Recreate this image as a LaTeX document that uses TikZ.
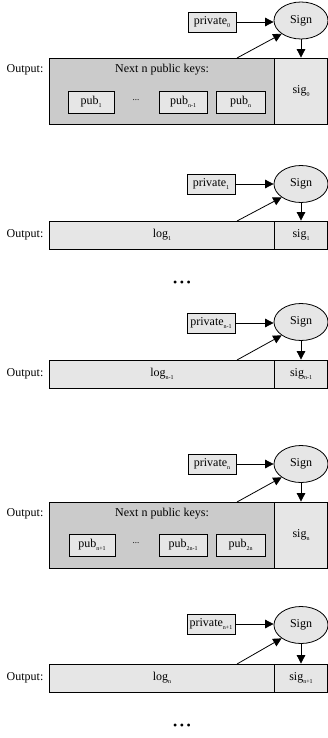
\documentclass[tikz,border=0pt]{standalone}
\usepackage{fontspec}
\setmainfont{Liberation Serif}
\usetikzlibrary{arrows.meta,shapes.geometric}
\newcommand{\lsub}[1]{\raisebox{-3pt}{\fontsize{6}{6}\selectfont #1}}
\definecolor{dk}{HTML}{CBCBCB}
\definecolor{lt}{HTML}{E6E6E6}
\begin{document}
\begin{tikzpicture}[x=1pt,y=-1pt, line width=0.8pt, font=\fontsize{12}{14}\selectfont,
  privbox/.style={draw, fill=lt, inner sep=2pt, minimum width=48pt, minimum height=20pt},
  signell/.style={draw, fill=lt, ellipse, inner sep=0pt, minimum width=54pt, minimum height=37pt},
  pubrow/.style={draw, fill=dk, minimum width=226pt, minimum height=66pt, inner sep=0pt},
  logrow/.style={draw, fill=lt, minimum width=226pt, minimum height=28pt, inner sep=0pt},
  sigbig/.style={draw, fill=lt, minimum width=53pt, minimum height=66pt, inner sep=0pt},
  sigsmall/.style={draw, fill=lt, minimum width=53pt, minimum height=28pt, inner sep=0pt},
  pubbox/.style={draw, fill=lt, minimum width=46pt, minimum height=22pt, inner sep=1pt},
  lbl/.style={inner sep=0pt},
  smalldots/.style={inner sep=0pt, font=\fontsize{9}{9}\selectfont},
  bigdots/.style={inner sep=0pt, font=\fontsize{12}{12}\selectfont},
  arr/.style={-{Triangle[length=8.5pt,width=8.5pt]}}]
\useasboundingbox (0,0) rectangle (328,738);

% ---- block 0 ----
\node[pubrow] (row0) at (162,91) {};
\node[sigbig] (sig0) at (301,91) {sig\lsub{0}};
\node[lbl] (next0) at (162,70) {Next n public keys:};
\node[lbl] (out0) at (25,70) {Output:};
\node[pubbox] (p01) at (91,102) {pub\lsub{1}};
\node[smalldots] (dots0) at (136,100) {...};
\node[pubbox, minimum width=48pt] (p02) at (183,102) {pub\lsub{n-1}};
\node[pubbox, minimum width=49pt] (p03) at (240.5,102) {pub\lsub{n}};
\node[privbox] (priv0) at (212,22) {private\lsub{0}};
\node[signell] (sign0) at (301,20.5) {Sign};
\coordinate (t0) at (237,58);
\draw[arr] (priv0.east) -- (priv0.east -| sign0.west);
\draw[arr] (t0) -- (sign0.south west);
\draw[arr] (sign0.south) -- (sign0.south |- sig0.north);

% ---- block 1 ----
\node[logrow] (row1) at (162,235) {log\lsub{1}};
\node[sigsmall] (sig1) at (301,235) {sig\lsub{1}};
\node[lbl] (out1) at (25,235) {Output:};
\node[privbox] (priv1) at (211,184) {private\lsub{1}};
\node[signell] (sign1) at (301,184) {Sign};
\coordinate (t1) at (237,221);
\draw[arr] (priv1.east) -- (priv1.east -| sign1.west);
\draw[arr] (t1) -- (sign1.south west);
\draw[arr] (sign1.south) -- (sign1.south |- sig1.north);

\node[bigdots] (gap1) at (182,284) {\textbullet\hspace{2.5pt}\textbullet\hspace{2.5pt}\textbullet};

% ---- block n-1 ----
\node[logrow] (row2) at (162,374) {log\lsub{n-1}};
\node[sigsmall] (sig2) at (301,374) {sig\lsub{n-1}};
\node[lbl] (out2) at (25,374) {Output:};
\node[privbox] (priv2) at (211,323) {private\lsub{n-1}};
\node[signell] (sign2) at (301,322) {Sign};
\coordinate (t2) at (237,360);
\draw[arr] (priv2.east) -- (priv2.east -| sign2.west);
\draw[arr] (t2) -- (sign2.south west);
\draw[arr] (sign2.south) -- (sign2.south |- sig2.north);

% ---- block n ----
\node[pubrow] (row3) at (162,535) {};
\node[sigbig] (sig3) at (301,535) {sig\lsub{n}};
\node[lbl] (next3) at (162,514) {Next n public keys:};
\node[lbl] (out3) at (25,514) {Output:};
\node[pubbox] (p31) at (92,545) {pub\lsub{n+1}};
\node[smalldots] (dots3) at (136,543) {...};
\node[pubbox, minimum width=48pt] (p32) at (183,545) {pub\lsub{2n-1}};
\node[pubbox, minimum width=49pt] (p33) at (240.5,545) {pub\lsub{2n}};
\node[privbox] (priv3) at (212,464) {private\lsub{n}};
\node[signell] (sign3) at (301,464) {Sign};
\coordinate (t3) at (237,502);
\draw[arr] (priv3.east) -- (priv3.east -| sign3.west);
\draw[arr] (t3) -- (sign3.south west);
\draw[arr] (sign3.south) -- (sign3.south |- sig3.north);

% ---- block n+1 ----
\node[logrow] (row4) at (162,678) {log\lsub{n}};
\node[sigsmall] (sig4) at (301,678) {sig\lsub{n+1}};
\node[lbl] (out4) at (25,678) {Output:};
\node[privbox] (priv4) at (211,624) {private\lsub{n+1}};
\node[signell] (sign4) at (301,625) {Sign};
\coordinate (t4) at (237,664);
\draw[arr] (priv4.east) -- (priv4.east -| sign4.west);
\draw[arr] (t4) -- (sign4.south west);
\draw[arr] (sign4.south) -- (sign4.south |- sig4.north);

\node[bigdots] (gap2) at (182,727) {\textbullet\hspace{2.5pt}\textbullet\hspace{2.5pt}\textbullet};
\end{tikzpicture}
\end{document}
